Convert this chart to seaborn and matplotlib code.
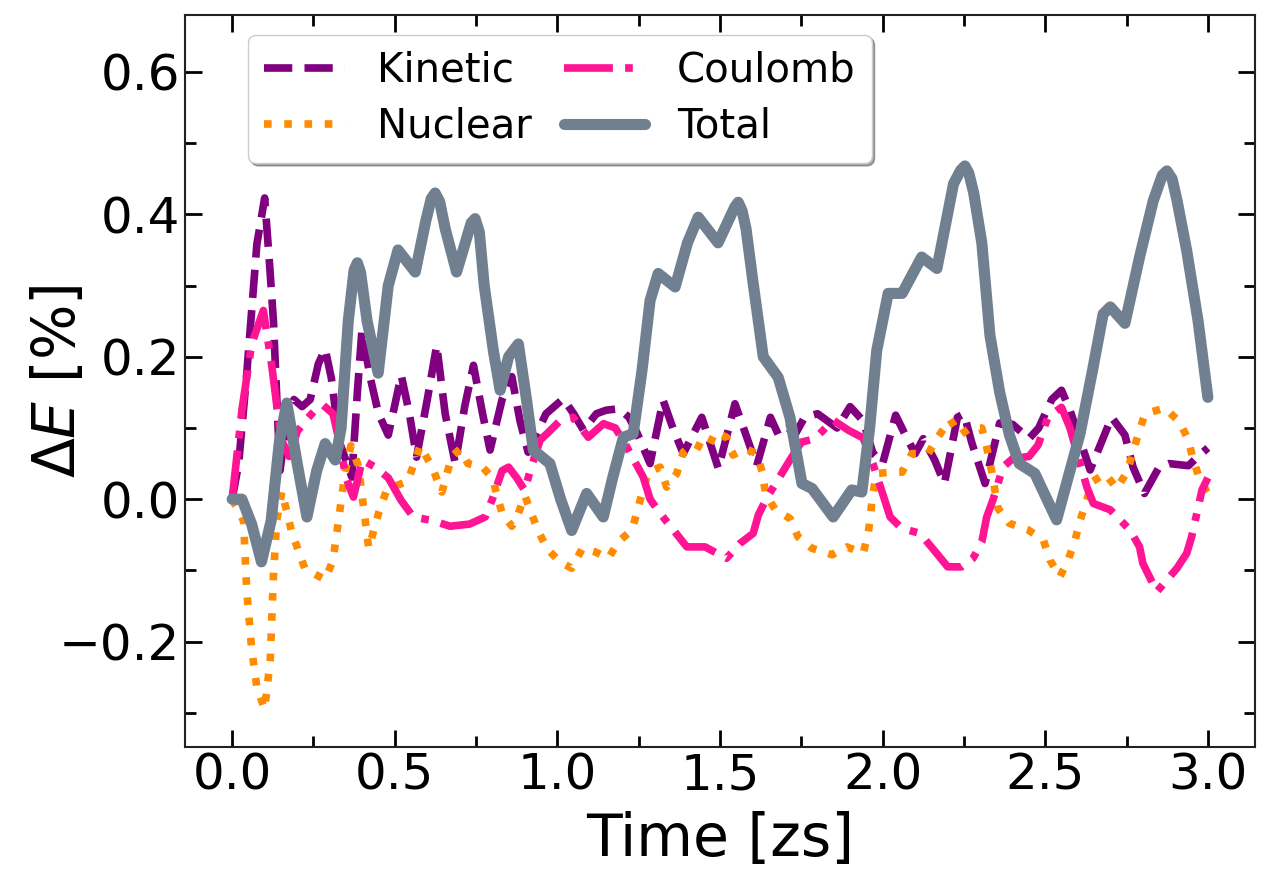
import numpy as np
import pandas as pd
import matplotlib
matplotlib.use('Agg')
import matplotlib.pyplot as plt
import seaborn as sns
from matplotlib.ticker import MultipleLocator

# Values (time in zs, energy change in %)
kin_t = [0.0, 0.02, 0.045, 0.076, 0.1, 0.115, 0.127, 0.147, 0.165, 0.19, 0.215, 0.24, 0.265, 0.286,
         0.305, 0.33, 0.368, 0.385, 0.399, 0.425, 0.45, 0.48, 0.52, 0.545, 0.567, 0.6, 0.629, 0.655,
         0.686, 0.715, 0.742, 0.77, 0.793, 0.83, 0.86, 0.885, 0.91, 0.965, 1.018, 1.05, 1.08, 1.12,
         1.15, 1.19, 1.22, 1.245, 1.285, 1.325, 1.355, 1.387, 1.444, 1.495, 1.546, 1.58, 1.613,
         1.655, 1.68, 1.71, 1.73, 1.76, 1.8, 1.83, 1.86, 1.9, 1.94, 1.97, 2.0, 2.04, 2.07, 2.1,
         2.125, 2.16, 2.19, 2.23, 2.25, 2.275, 2.315, 2.36, 2.4, 2.45, 2.48, 2.52, 2.55, 2.576,
         2.638, 2.704, 2.745, 2.77, 2.805, 2.85, 2.88, 2.94, 2.97, 3.0]
kin_v = [0.0, 0.05, 0.177, 0.358, 0.423, 0.33, 0.25, 0.04, 0.1, 0.14, 0.13, 0.14, 0.19, 0.211,
         0.17, 0.08, 0.031, 0.15, 0.237, 0.17, 0.12, 0.09, 0.174, 0.12, 0.059, 0.14, 0.216, 0.12,
         0.05, 0.13, 0.188, 0.12, 0.069, 0.14, 0.172, 0.11, 0.066, 0.12, 0.141, 0.12, 0.097, 0.12,
         0.125, 0.127, 0.115, 0.093, 0.05, 0.139, 0.1, 0.064, 0.115, 0.043, 0.134, 0.09, 0.047,
         0.115, 0.09, 0.1, 0.09, 0.115, 0.12, 0.11, 0.1, 0.13, 0.11, 0.065, 0.05, 0.118, 0.09, 0.064,
         0.085, 0.055, 0.022, 0.115, 0.12, 0.078, 0.022, 0.107, 0.105, 0.085, 0.1, 0.14, 0.153, 0.125,
         0.041, 0.115, 0.09, 0.045, 0.008, 0.045, 0.05, 0.047, 0.06, 0.072]

nuc_t = [0.0, 0.035, 0.045, 0.06, 0.076, 0.1, 0.117, 0.127, 0.137, 0.153, 0.183, 0.224, 0.286, 0.31,
         0.327, 0.347, 0.365, 0.388, 0.405, 0.42, 0.45, 0.475, 0.51, 0.54, 0.578, 0.615, 0.645,
         0.675, 0.7, 0.725, 0.77, 0.8, 0.83, 0.86, 0.88, 0.9, 0.92, 0.94, 0.967, 1.008, 1.044,
         1.077, 1.116, 1.157, 1.187, 1.23, 1.26, 1.28, 1.316, 1.336, 1.367, 1.387, 1.418, 1.46,
         1.485, 1.52, 1.54, 1.577, 1.613, 1.63, 1.64, 1.67, 1.715, 1.74, 1.783, 1.845, 1.89, 1.94,
         1.956, 1.97, 1.982, 2.028, 2.06, 2.09, 2.14, 2.17, 2.207, 2.238, 2.269, 2.305, 2.32, 2.335,
         2.355, 2.39, 2.447, 2.494, 2.515, 2.545, 2.57, 2.592, 2.607, 2.628, 2.643, 2.684, 2.72,
         2.751, 2.77, 2.786, 2.807, 2.868, 2.914, 2.94, 2.955, 2.976, 3.0]
nuc_v = [0.0, -0.03, -0.13, -0.21, -0.264, -0.295, -0.227, -0.108, -0.03, 0.011, -0.046, -0.098,
         -0.113, -0.086, -0.03, 0.037, 0.075, 0.047, -0.015, -0.069, -0.02, 0.013, 0.02, 0.025,
         0.075, 0.045, 0.01, 0.06, 0.07, 0.05, 0.045, 0.03, -0.02, -0.038, -0.02, 0.005, -0.02,
         -0.043, -0.069, -0.088, -0.097, -0.069, -0.074, -0.083, -0.06, -0.043, 0.008, 0.038, 0.045,
         0.017, 0.036, 0.066, 0.078, 0.069, 0.094, 0.087, 0.062, 0.071, 0.064, 0.038, 0.008, -0.015,
         -0.027, -0.053, -0.069, -0.078, -0.067, -0.076, -0.048, 0.008, 0.036, 0.038, 0.038, 0.064,
         0.064, 0.087, 0.112, 0.09, 0.1, 0.1, 0.073, 0.04, -0.013, -0.034, -0.043, -0.057, -0.086,
         -0.109, -0.086, -0.057, -0.03, -0.001, 0.024, 0.036, 0.015, 0.038, 0.066, 0.092, 0.12,
         0.128, 0.108, 0.083, 0.055, 0.027, 0.008]

cou_t = [0.0, 0.03, 0.06, 0.096, 0.122, 0.15, 0.175, 0.2, 0.225, 0.255, 0.28, 0.31, 0.33, 0.35,
         0.373, 0.4, 0.44, 0.48, 0.52, 0.557, 0.615, 0.67, 0.73, 0.778, 0.8, 0.83, 0.85, 0.875,
         0.9, 0.916, 0.947, 0.968, 1.008, 1.048, 1.095, 1.142, 1.178, 1.208, 1.264, 1.285, 1.316,
         1.398, 1.454, 1.52, 1.562, 1.602, 1.618, 1.643, 1.715, 1.75, 1.792, 1.848, 1.894, 1.94,
         1.97, 2.007, 2.023, 2.059, 2.115, 2.166, 2.2, 2.243, 2.278, 2.305, 2.32, 2.34, 2.37, 2.4,
         2.45, 2.478, 2.508, 2.55, 2.576, 2.628, 2.648, 2.7, 2.76, 2.79, 2.8, 2.843, 2.905, 2.935,
         2.95, 2.982, 3.0]
cou_v = [0.0, 0.125, 0.218, 0.265, 0.187, 0.085, 0.06, 0.095, 0.11, 0.125, 0.132, 0.12, 0.08,
         0.03, 0.003, 0.055, 0.045, 0.03, -0.002, -0.025, -0.03, -0.038, -0.035, -0.025, 0.0, 0.04,
         0.045, 0.03, 0.012, 0.04, 0.083, 0.092, 0.11, 0.115, 0.087, 0.106, 0.1, 0.078, 0.031, 0.0,
         -0.02, -0.067, -0.067, -0.083, -0.062, -0.048, -0.022, 0.001, 0.055, 0.08, 0.085, 0.111,
         0.097, 0.086, 0.05, -0.002, -0.025, -0.041, -0.048, -0.076, -0.095, -0.095, -0.083, -0.06,
         -0.025, 0.0, 0.045, 0.057, 0.06, 0.076, 0.115, 0.129, 0.1, 0.017, -0.006, -0.015, -0.043,
         -0.067, -0.09, -0.13, -0.097, -0.076, -0.053, 0.013, 0.03]

tot_t = [0.0, 0.03, 0.06, 0.09, 0.12, 0.145, 0.168, 0.2, 0.23, 0.26, 0.286, 0.317, 0.335, 0.357,
         0.375, 0.385, 0.395, 0.415, 0.449, 0.48, 0.51, 0.563, 0.595, 0.612, 0.624, 0.638, 0.655,
         0.69, 0.735, 0.747, 0.76, 0.775, 0.803, 0.824, 0.85, 0.88, 0.905, 0.926, 0.977, 1.01,
         1.044, 1.09, 1.141, 1.17, 1.203, 1.233, 1.26, 1.285, 1.31, 1.362, 1.4, 1.433, 1.494,
         1.545, 1.556, 1.568, 1.58, 1.602, 1.633, 1.679, 1.715, 1.752, 1.783, 1.848, 1.905, 1.936,
         1.96, 1.982, 2.017, 2.06, 2.12, 2.167, 2.218, 2.24, 2.253, 2.265, 2.28, 2.305, 2.33, 2.36,
         2.39, 2.42, 2.468, 2.535, 2.607, 2.645, 2.678, 2.7, 2.745, 2.79, 2.832, 2.86, 2.874, 2.89,
         2.905, 2.935, 2.97, 3.0]
tot_v = [0.0, 0.0, -0.035, -0.088, -0.03, 0.08, 0.135, 0.05, -0.025, 0.04, 0.078, 0.055, 0.1,
         0.25, 0.322, 0.332, 0.318, 0.25, 0.177, 0.3, 0.35, 0.319, 0.39, 0.422, 0.43, 0.418, 0.38,
         0.319, 0.388, 0.394, 0.375, 0.3, 0.209, 0.153, 0.2, 0.218, 0.14, 0.069, 0.05, 0.0, -0.044,
         0.008, -0.025, 0.03, 0.087, 0.092, 0.18, 0.279, 0.317, 0.298, 0.36, 0.396, 0.36, 0.41,
         0.417, 0.405, 0.38, 0.303, 0.2, 0.171, 0.115, 0.022, 0.015, -0.025, 0.013, 0.01, 0.1, 0.209,
         0.289, 0.289, 0.34, 0.324, 0.443, 0.462, 0.468, 0.458, 0.43, 0.36, 0.23, 0.15, 0.09, 0.05,
         0.036, -0.029, 0.092, 0.18, 0.26, 0.27, 0.247, 0.34, 0.419, 0.455, 0.461, 0.45, 0.42, 0.349,
         0.25, 0.143]

sns.set_style('ticks')
plt.rcParams['font.family'] = ['DejaVu Sans']
plt.rcParams['mathtext.fontset'] = 'dejavusans'
plt.rcParams['text.color'] = 'black'
plt.rcParams['axes.labelcolor'] = 'black'
plt.rcParams['xtick.color'] = 'black'
plt.rcParams['ytick.color'] = 'black'

fig = plt.figure(figsize=(12.74, 8.71), dpi=100)
ax = fig.add_axes([0.1452, 0.1424, 0.8399, 0.8404])

sns.lineplot(x=kin_t, y=kin_v, ax=ax, color='purple', linestyle='--', lw=5.5, label='Kinetic')
sns.lineplot(x=nuc_t, y=nuc_v, ax=ax, color='darkorange', linestyle=':', lw=5.5, label='Nuclear')
sns.lineplot(x=cou_t, y=cou_v, ax=ax, color='deeppink', linestyle='-.', lw=5.5, label='Coulomb')
sns.lineplot(x=tot_t, y=tot_v, ax=ax, color='slategray', linestyle='-', lw=8, label='Total')

ax.set_xlim(-0.145, 3.145)
ax.set_ylim(-0.348, 0.68)
ax.xaxis.set_major_locator(MultipleLocator(0.5))
ax.xaxis.set_minor_locator(MultipleLocator(0.25))
ax.yaxis.set_major_locator(MultipleLocator(0.2))
ax.yaxis.set_minor_locator(MultipleLocator(0.1))
ax.tick_params(which='both', direction='in', top=True, right=True, width=2, colors='black')
ax.tick_params(which='major', length=12, labelsize=36)
ax.tick_params(which='minor', length=8)
for s in ax.spines.values():
    s.set_linewidth(1.5)
    s.set_color('#222222')

ax.set_xlabel('Time [zs]', fontsize=42, labelpad=8)
ax.set_ylabel(r'$\Delta E$ [%]', fontsize=42)
ax.yaxis.set_label_coords(-0.092, 0.5)

ax.legend(loc='upper left', bbox_to_anchor=(0.059, 0.973), borderaxespad=0, ncol=2,
          fontsize=29, shadow=True, fancybox=True, framealpha=1, columnspacing=0.8,
          handlelength=2.0, handletextpad=0.8, labelspacing=0.4, borderpad=0.4)

fig.savefig('out.png', dpi=100)
